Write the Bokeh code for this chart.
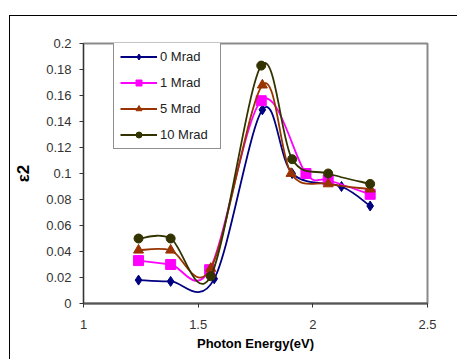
import numpy as np
from bokeh.plotting import figure
from bokeh.models import Range1d, FixedTicker, Legend, LegendItem, ColumnDataSource
from bokeh.embed import file_html
from bokeh.resources import INLINE

# ---- data ----
series_names = ["0 Mrad", "1 Mrad", "5 Mrad", "10 Mrad"]
x_0 = [1.24, 1.38, 1.57, 1.78, 1.91, 2.125, 2.25]
y_0 = [0.018, 0.017, 0.019, 0.149, 0.100, 0.090, 0.075]
x_1 = [1.24, 1.38, 1.55, 1.775, 1.97, 2.067, 2.25]
y_1 = [0.033, 0.030, 0.026, 0.156, 0.100, 0.095, 0.084]
x_5 = [1.24, 1.38, 1.555, 1.78, 1.905, 2.067, 2.25]
y_5 = [0.041, 0.041, 0.027, 0.168, 0.100, 0.092, 0.088]
x_10 = [1.24, 1.38, 1.555, 1.775, 1.91, 2.067, 2.25]
y_10 = [0.050, 0.050, 0.021, 0.183, 0.111, 0.100, 0.092]

y_ticks = [0, 0.02, 0.04, 0.06, 0.08, 0.1, 0.12, 0.14, 0.16, 0.18, 0.2]
y_tick_labels = ["0", "0.02", "0.04", "0.06", "0.08", "0.1", "0.12", "0.14", "0.16", "0.18", "0.2"]
x_ticks = [1, 1.5, 2, 2.5]
x_tick_labels = ["1", "1.5", "2", "2.5"]

colors = ["#000080", "#FF00FF", "#993300", "#333300"]
markers = ["diamond", "square", "triangle", "circle"]
sizes = [10, 10, 10, 9]
legend_sizes = [8, 9, 8, 9]

FONT = "Liberation Sans"

p = figure(width=448, height=344, output_backend="svg", toolbar_location=None,
           x_range=Range1d(1, 2.5), y_range=Range1d(0, 0.2),
           min_border_left=73, min_border_right=31, min_border_top=27, min_border_bottom=57)
p.styles = {"margin-left": "9px", "margin-top": "15px",
            "border-left": "1px solid black", "border-top": "1px solid black"}
p.grid.visible = False
p.outline_line_color = "#8a8a8a"
p.outline_line_width = 2

p.xaxis.ticker = FixedTicker(ticks=x_ticks)
p.xaxis.major_label_overrides = dict(zip(x_ticks, x_tick_labels))
p.yaxis.ticker = FixedTicker(ticks=y_ticks)
p.yaxis.major_label_overrides = dict(zip(y_ticks, y_tick_labels))
for ax in (p.xaxis[0], p.yaxis[0]):
    ax.minor_tick_line_color = None
    ax.major_tick_in = 0
    ax.major_tick_out = 4
    ax.major_label_text_font = FONT
    ax.major_label_text_font_size = "13px"
    ax.major_label_text_color = "#333333"
    ax.axis_label_text_font = FONT
    ax.axis_label_text_font_style = "bold"
    ax.axis_label_text_color = "#000000"
p.xaxis.axis_line_color = "#555555"
p.xaxis.axis_line_width = 2
p.xaxis.major_tick_line_color = "#333333"
p.xaxis.major_label_standoff = 12
p.xaxis.axis_label = "Photon Energy(eV)"
p.xaxis.axis_label_text_font_size = "13px"
p.xaxis.axis_label_standoff = 4
p.yaxis.axis_line_color = "#333333"
p.yaxis.major_tick_line_color = "#333333"
p.yaxis.major_label_standoff = 8
p.yaxis.axis_label = "ε2"
p.yaxis.axis_label_text_font_size = "17px"
p.yaxis.axis_label_standoff = 10


def bezier_segments(xs, ys):
    xs = np.asarray(xs, float)
    ys = np.asarray(ys, float)
    n = len(xs)
    xp = np.concatenate([[xs[0]], xs, [xs[-1]]])
    yp = np.concatenate([[ys[0]], ys, [ys[-1]]])
    d = dict(x0=[], y0=[], x1=[], y1=[], cx0=[], cy0=[], cx1=[], cy1=[])
    for i in range(n - 1):
        j = i + 1
        d["x0"].append(xp[j]); d["y0"].append(yp[j])
        d["x1"].append(xp[j + 1]); d["y1"].append(yp[j + 1])
        d["cx0"].append(xp[j] + (xp[j + 1] - xp[j - 1]) / 6)
        d["cy0"].append(yp[j] + (yp[j + 1] - yp[j - 1]) / 6)
        d["cx1"].append(xp[j + 1] - (xp[j + 2] - xp[j]) / 6)
        d["cy1"].append(yp[j + 1] - (yp[j + 2] - yp[j]) / 6)
    return ColumnDataSource(d)


items = []
all_series = [(x_0, y_0), (x_1, y_1), (x_5, y_5), (x_10, y_10)]
for (xs, ys), name, c, m, s, ls in zip(all_series, series_names, colors, markers, sizes, legend_sizes):
    p.bezier(x0="x0", y0="y0", x1="x1", y1="y1", cx0="cx0", cy0="cy0", cx1="cx1", cy1="cy1",
             source=bezier_segments(xs, ys), line_color=c, line_width=1.8)
    p.scatter(x=xs, y=ys, marker=m, size=s, fill_color=c, line_color=c)
    dummy_line = p.line(x=[float("nan")], y=[float("nan")], line_color=c, line_width=1.8)
    dummy_mark = p.scatter(x=[float("nan")], y=[float("nan")], marker=m, size=ls,
                           fill_color=c, line_color=c)
    items.append(LegendItem(label=name, renderers=[dummy_line, dummy_mark]))

legend = Legend(items=items, location=(30, 154))
legend.label_text_font = FONT
legend.label_text_font_size = "13px"
legend.label_text_color = "#222222"
legend.glyph_width = 37
legend.glyph_height = 15
legend.label_height = 15
legend.label_width = 54
legend.label_standoff = 3
legend.spacing = 11
legend.padding = 6
legend.border_line_color = "#222222"
legend.border_line_width = 1
legend.background_fill_alpha = 1
p.add_layout(legend, "center")

open("out.html", "w").write(file_html(p, INLINE))
